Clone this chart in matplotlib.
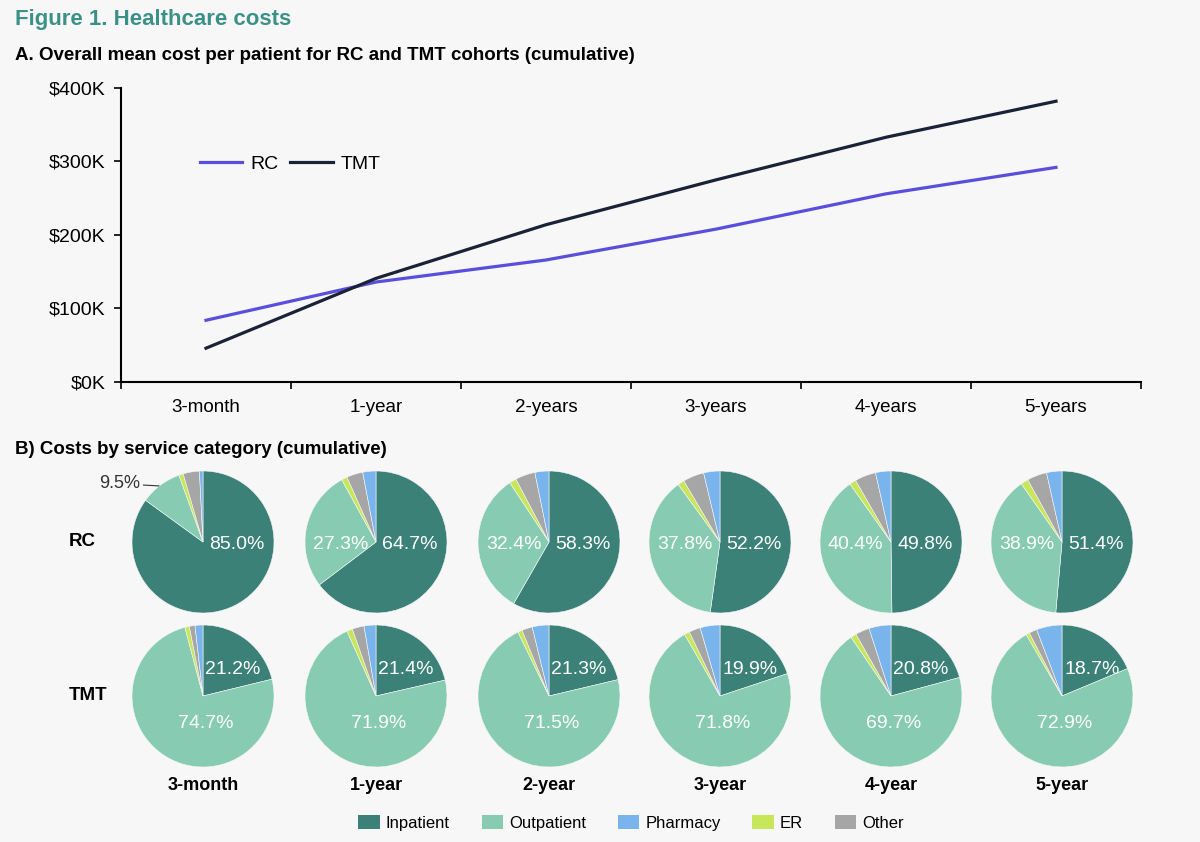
import numpy as np
import matplotlib
matplotlib.use("Agg")
import matplotlib.pyplot as plt
from matplotlib.patches import Patch

plt.rcParams['font.family'] = ['Liberation Sans', 'DejaVu Sans']

# ---- data ----
periods = ['3-month', '1-year', '2-years', '3-years', '4-years', '5-years']
rc_cost = [84, 136, 166, 208, 256, 292]      # $K, cumulative
tmt_cost = [46, 141, 214, 275, 333, 382]

pie_labels = ['3-month', '1-year', '2-year', '3-year', '4-year', '5-year']
categories = ['Inpatient', 'Outpatient', 'Pharmacy', 'ER', 'Other']

# shares in %, one list per category, one value per period
rc_inpatient = [85.0, 64.7, 58.3, 52.2, 49.8, 51.4]
rc_outpatient = [9.5, 27.3, 32.4, 37.8, 40.4, 38.9]
rc_pharmacy = [0.8, 3.0, 3.2, 3.7, 3.5, 3.5]
rc_er = [1.0, 1.3, 1.6, 1.5, 1.5, 1.7]
rc_other = [3.7, 3.7, 4.5, 4.8, 4.8, 4.5]

tmt_inpatient = [21.2, 21.4, 21.3, 19.9, 20.8, 18.7]
tmt_outpatient = [74.7, 71.9, 71.5, 71.8, 69.7, 72.9]
tmt_pharmacy = [1.8, 2.7, 3.8, 4.5, 5.0, 5.8]
tmt_er = [1.0, 1.3, 1.0, 1.2, 1.3, 0.8]
tmt_other = [1.3, 2.7, 2.4, 2.6, 3.2, 1.8]

# ---- style ----
bg = '#f7f7f7'
col = {'Inpatient': '#3b8178', 'Outpatient': '#86cbb2', 'Pharmacy': '#7ab4ec',
       'ER': '#c8e65a', 'Other': '#a6a6a6'}
W, H = 1200, 842

fig = plt.figure(figsize=(12, 8.42), dpi=100, facecolor=bg)

fig.text(15 / W, 1 - 20 / H, 'Figure 1. Healthcare costs', color='#3c9186',
         fontsize=16, fontweight='bold', va='center')
fig.text(15 / W, 1 - 55 / H,
         'A. Overall mean cost per patient for RC and TMT cohorts (cumulative)',
         fontsize=13.5, fontweight='bold', va='center')
fig.text(15 / W, 1 - 450 / H, 'B) Costs by service category (cumulative)',
         fontsize=13.5, fontweight='bold', va='center')

# ---- panel A: line chart ----
ax = fig.add_axes([121 / W, 1 - 382 / H, 1020 / W, 294 / H])
ax.set_facecolor(bg)
x = np.arange(len(periods))
ax.plot(x, rc_cost, color='#5a4fdc', lw=2.3, label='RC')
ax.plot(x, tmt_cost, color='#1a2238', lw=2.3, label='TMT')
ax.set_xlim(-0.5, len(periods) - 0.5)
ax.set_ylim(0, 400)
ax.set_yticks([0, 100, 200, 300, 400])
ax.set_yticklabels([f'${v}K' for v in [0, 100, 200, 300, 400]], fontsize=14)
ax.set_xticks(x)
ax.set_xticklabels(periods, fontsize=13.5)
ax.set_xticks(np.arange(-0.5, len(periods)), minor=True)
ax.tick_params(axis='x', which='major', length=0, pad=12)
ax.tick_params(axis='x', which='minor', length=5, width=1.2, direction='out')
ax.tick_params(axis='y', length=5, width=1.2, pad=6)
for s in ['top', 'right']:
    ax.spines[s].set_visible(False)
for s in ['left', 'bottom']:
    ax.spines[s].set_linewidth(1.5)
ax.legend(loc='upper left', bbox_to_anchor=(0.06, 0.83), ncol=2, frameon=False,
          fontsize=14, handlelength=2.2, columnspacing=0.6, handletextpad=0.4)

# ---- panel B: pies ----
rc_rows = [rc_inpatient, rc_outpatient, rc_er, rc_other, rc_pharmacy]
tmt_rows = [tmt_inpatient, tmt_outpatient, tmt_er, tmt_other, tmt_pharmacy]
wedge_order = ['Inpatient', 'Outpatient', 'ER', 'Other', 'Pharmacy']
centers_x = [203, 376, 549, 720, 891, 1062]
row_y = {'RC': 542, 'TMT': 696}
r_px = 71

for row_name, rows in [('RC', rc_rows), ('TMT', tmt_rows)]:
    cy = row_y[row_name]
    for i, cx in enumerate(centers_x):
        pax = fig.add_axes([(cx - r_px) / W, 1 - (cy + r_px) / H,
                            2 * r_px / W, 2 * r_px / H])
        vals = [r[i] for r in rows]
        pax.pie(vals, colors=[col[c] for c in wedge_order], startangle=90,
                counterclock=False, radius=1,
                wedgeprops=dict(edgecolor=bg, linewidth=0.4))
        pax.set_xlim(-1, 1)
        pax.set_ylim(-1, 1)
        pax.set_aspect('equal')
        pax.axis('off')
        inp = f'{rows[0][i]:.1f}%'
        outp = f'{rows[1][i]:.1f}%'
        if row_name == 'RC':
            pax.text(0.48, -0.03, inp, color='white', fontsize=14,
                     ha='center', va='center')
            if i == 0:
                pax.annotate(outp, xy=(-0.62, 0.79), xytext=(-0.88, 0.82),
                             fontsize=13, ha='right', va='center',
                             color='#333333', annotation_clip=False,
                             arrowprops=dict(arrowstyle='-', color='#333333',
                                             lw=0.8, shrinkA=0, shrinkB=0))
            else:
                pax.text(-0.5, -0.03, outp, color='white', fontsize=14,
                         ha='center', va='center')
        else:
            pax.text(0.42, 0.37, inp, color='white', fontsize=14,
                     ha='center', va='center')
            pax.text(0.04, -0.39, outp, color='white', fontsize=14,
                     ha='center', va='center')
        if row_name == 'TMT':
            fig.text(cx / W, 1 - 785 / H, pie_labels[i], fontsize=13,
                     fontweight='bold', ha='center', va='center')

fig.text(82 / W, 1 - 542 / H, 'RC', fontsize=13.5, fontweight='bold',
         ha='center', va='center')
fig.text(88 / W, 1 - 695 / H, 'TMT', fontsize=13.5, fontweight='bold',
         ha='center', va='center')

handles = [Patch(facecolor=col[c], edgecolor='none', label=c) for c in categories]
fig.legend(handles=handles, loc='center', bbox_to_anchor=(631 / W, 1 - 823 / H),
           ncol=5, frameon=False, fontsize=12, handlelength=1.3,
           handleheight=0.9, columnspacing=1.9, handletextpad=0.35)

fig.savefig('out.png', dpi=100, facecolor=bg)
